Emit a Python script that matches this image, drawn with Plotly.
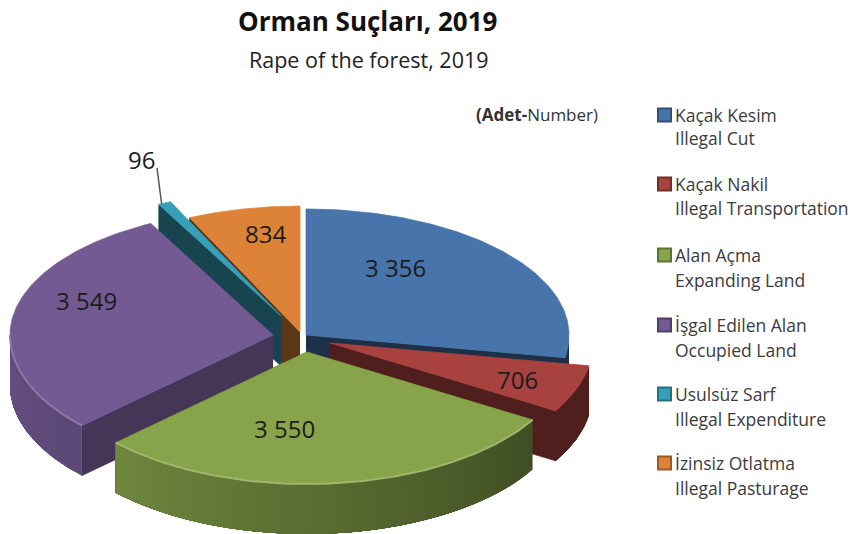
import numpy as np
import plotly.graph_objects as go

# --- data ---
names_tr = ["Kaçak Kesim", "Kaçak Nakil", "Alan Açma", "İşgal Edilen Alan", "Usulsüz Sarf", "İzinsiz Otlatma"]
names_en = ["Illegal Cut", "Illegal Transportation", "Expanding Land", "Occupied Land", "Illegal Expenditure", "Illegal Pasturage"]
values = [3356, 706, 3550, 3549, 96, 834]
value_labels = ["3 356", "706", "3 550", "3 549", "96", "834"]

# --- style ---
colors = ["#4774ab", "#a8423f", "#87a44b", "#735a93", "#37a0b8", "#dd8338"]
# exploded slice apex offsets from the pie centre
CX, CY = 303, 340
offset_x = [3, 27, 4, -30, -22, -3]
offset_y = [-5, 3, 12, -5, -24, -8]
RX, RY_BACK, RY_FRONT, DEPTH = 263, 126, 132, 50
label_x = [395, 517, 284, 86, 141, 265]
label_y = [267, 379, 428, 300, 159, 233]
legend_x_sw, legend_x_txt = 664.5, 672.5
legend_y1 = [115, 184, 255, 325, 394, 463]
legend_y2 = [138, 208, 280, 350, 419, 488]
FONT = "Open Sans"
DARK = "#1a1a1a"
GREY = "#3c3c3c"


def shade(hex_color, f):
    r, g, b = (int(hex_color[i:i + 2], 16) for i in (1, 3, 5))
    if f <= 1:
        return f"rgb({int(r * f)},{int(g * f)},{int(b * f)})"
    return f"rgb({min(255, int(r + (255 - r) * (f - 1)))},{min(255, int(g + (255 - g) * (f - 1)))},{min(255, int(b + (255 - b) * (f - 1)))})"


def rim(theta_deg, ax, ay):
    t = np.radians(theta_deg)
    c = np.cos(t)
    ry = np.where(c > 0, RY_BACK, RY_FRONT)
    return ax + RX * np.sin(t), ay - ry * c


fig = go.Figure()


def poly(xs, ys, color, width=0.7):
    fig.add_trace(go.Scatter(x=list(xs), y=list(ys), fill="toself", fillcolor=color, mode="lines",
                             line=dict(color=color, width=width), hoverinfo="skip", showlegend=False))


fractions = np.array(values) / sum(values) * 360
ends = np.cumsum(fractions)
starts = ends - fractions

# wall brightness: (radial wall factor, outer wall factor at slice start, at slice end)
wall_style = [(0.42, 0.42, 0.42), (0.47, 0.47, 0.47), (0.5, 0.48, 0.82), (0.6, 0.8, 0.88), (0.43, 0.43, 0.43), (0.42, 0.42, 0.42)]
rim_light = [1.0, 1.0, 1.2, 1.18, 1.0, 1.0]
draw_order = [5, 4, 0, 3, 1, 2]

for i in draw_order:
    ax, ay = CX + offset_x[i], CY + offset_y[i]
    s, e = starts[i], ends[i]
    col = colors[i]
    fr, f0, f1 = wall_style[i]
    # radial wall facing the viewer
    edge = s if i in (3, 4, 5) else e
    ex, ey = rim(edge, ax, ay)
    poly([ax, ex, ex, ax], [ay, ey, ey + DEPTH, ay + DEPTH], shade(col, fr))
    # outer wall (front half only), drawn as shaded strips painted over one another
    lo, hi = max(s, 90), min(e, 270)
    if hi > lo:
        n = max(2, int((hi - lo) / 2))
        grid = np.linspace(lo, hi, n + 1)
        for k in range(n):
            th = np.linspace(grid[k], hi, 40)
            x, y = rim(th, ax, ay)
            f = f0 + (f1 - f0) * (k / max(1, n - 1))
            poly(np.r_[x, x[::-1]], np.r_[y, y[::-1] + DEPTH], shade(col, f), width=0)
    # top face
    th = np.linspace(s, e, 120)
    x, y = rim(th, ax, ay)
    poly(np.r_[ax, x, ax], np.r_[ay, y, ay], col)
    # bevel highlight along the front rim
    if rim_light[i] > 1 and hi > lo:
        th = np.linspace(lo, hi, 80)
        x, y = rim(th, ax, ay)
        fig.add_trace(go.Scatter(x=x, y=y, mode="lines", line=dict(color=shade(col, rim_light[i]), width=2),
                                 hoverinfo="skip", showlegend=False))

# leader line of the smallest slice
i_small = 4
mx, my = rim((starts[i_small] + ends[i_small]) / 2, CX + offset_x[i_small], CY + offset_y[i_small])
fig.add_trace(go.Scatter(x=[mx - 3, label_x[i_small] + 16], y=[my + 1, label_y[i_small] + 9], mode="lines",
                         line=dict(color="#555555", width=1.5), hoverinfo="skip", showlegend=False))

# legend swatches
fig.add_trace(go.Scatter(x=[legend_x_sw] * len(values), y=legend_y1, mode="markers",
                         marker=dict(symbol="square", size=13, color=colors,
                                     line=dict(color=[shade(c, 0.7) for c in colors], width=2)),
                         hoverinfo="skip", showlegend=False))

annotations = []


def note(x, y, text, size, color=DARK, anchor="center"):
    annotations.append(dict(x=x, y=y, xref="x", yref="y", text=text, showarrow=False, xanchor=anchor,
                            yanchor="middle", font=dict(family=FONT, size=size, color=color)))


note(367, 21, "<b>Orman Suçları, 2019</b>", 26, "#111111")
note(369, 59, "Rape of the forest, 2019", 21.5, "#222222")
note(537, 114, "<b>(Adet-</b>Number)", 17, "#333333")
for i in range(len(values)):
    note(label_x[i], label_y[i], value_labels[i], 24, "#1c1c1c")
    note(legend_x_txt, legend_y1[i], names_tr[i], 17.5, GREY, "left")
    note(legend_x_txt, legend_y2[i], names_en[i], 17.5, GREY, "left")

fig.update_layout(
    width=854, height=534, margin=dict(l=0, r=0, t=0, b=0), autosize=False,
    paper_bgcolor="white", plot_bgcolor="white", annotations=annotations,
    xaxis=dict(range=[0, 854], visible=False, fixedrange=True),
    yaxis=dict(range=[534, 0], visible=False, fixedrange=True),
)
fig.write_html("out.html", config=dict(displayModeBar=False),
               post_script="document.body.style.margin='0';document.body.style.overflow='hidden';")
